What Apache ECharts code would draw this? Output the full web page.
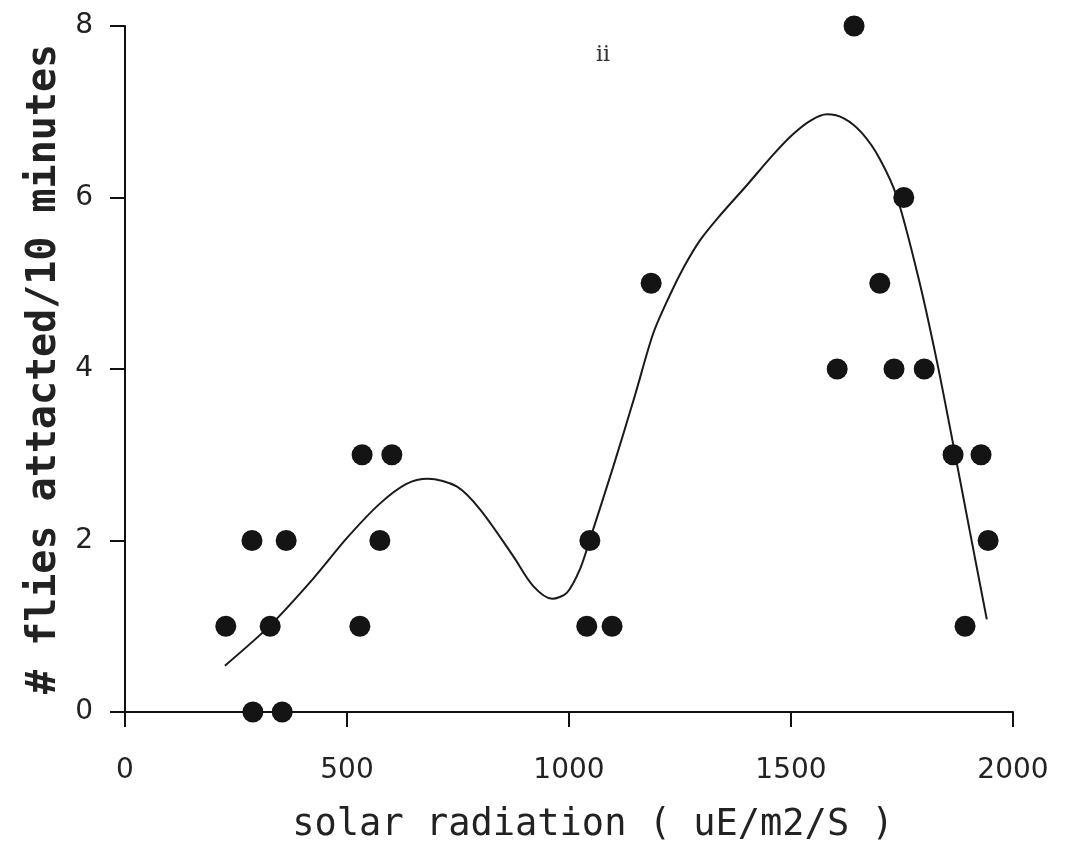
<!DOCTYPE html>
<html><head><meta charset="utf-8">
<script src="https://cdn.jsdelivr.net/npm/echarts@6/dist/echarts.min.js"></script>
<style>html,body{margin:0;padding:0;background:#fff;overflow:hidden}#c{width:1065px;height:849px}</style>
</head><body><div id="c"></div>
<script>
const pointsX = [227,286,288,327,354,363,529,534,601,574,1040,1047,1097,1185,1604,1642,1700,1732,1754,1800,1865,1928,1892,1944];
const pointsY = [1,2,0,1,0,2,1,3,3,2,1,2,1,5,4,8,5,4,6,4,3,3,1,2];
const curveX = [225,327,423,500,574,634,682,747,800,874,919,962,995,1025,1047,1099,1149,1190,1227,1260,1295,1335,1400,1460,1505,1545,1581,1620,1660,1700,1739,1790,1829,1865,1903,1941];
const curveY = [0.54,1.01,1.55,2.03,2.43,2.66,2.72,2.63,2.36,1.82,1.47,1.32,1.39,1.67,2.01,2.85,3.7,4.42,4.86,5.2,5.5,5.76,6.14,6.5,6.74,6.9,6.97,6.92,6.75,6.45,6.0,5.0,4.08,3.13,2.1,1.08];
const xTicks = {min:0, max:2000, interval:500};
const yTicks = {min:0, max:8, interval:2};
const panelLabel = 'ii';
const xName = 'solar radiation ( uE/m2/S )';
const yName = '# flies attacted/10 minutes';

const chart = echarts.init(document.getElementById('c'), null, {width:1065, height:849});
const tickFont = 'DejaVu Sans, sans-serif';
const nameFont = 'DejaVu Sans Mono, monospace';
function axisBase(){
  return {
    axisLine:{show:true, onZero:false, lineStyle:{color:'#111', width:2}},
    axisTick:{show:true, inside:false, length:15, lineStyle:{color:'#111', width:2}},
    splitLine:{show:false}
  };
}
chart.setOption({
  backgroundColor:'#fff',
  animation:false,
  title:{text:panelLabel, left:591, top:39, textStyle:{fontFamily:'DejaVu Serif, serif', fontSize:22, fontWeight:'normal', color:'#333'}},
  grid:{left:125, top:26, width:888, height:691, containLabel:false},
  xAxis:Object.assign(axisBase(), {type:'value', min:xTicks.min, max:xTicks.max, interval:xTicks.interval,
    name:xName, nameLocation:'middle', nameGap:95,
    nameTextStyle:{color:'#222', fontSize:37, fontFamily:nameFont, padding:[0,0,0,48]},
    axisLabel:{color:'#222', fontSize:28, margin:45, fontFamily:tickFont, formatter:v=>String(v)}}),
  yAxis:Object.assign(axisBase(), {type:'value', min:yTicks.min, max:yTicks.max, interval:yTicks.interval,
    name:yName, nameLocation:'middle', nameGap:60,
    nameTextStyle:{color:'#222', fontSize:40, fontFamily:nameFont, fontWeight:'bold'},
    axisLabel:{color:'#222', fontSize:28, margin:32, fontFamily:tickFont, formatter:v=>String(v)}}),
  series:[
    {type:'line', data:curveX.map((x,i)=>[x,curveY[i]]), smooth:0.3, showSymbol:false, symbol:'none',
     lineStyle:{color:'#1a1a1a', width:2}, z:2},
    {type:'scatter', data:pointsX.map((x,i)=>[x,pointsY[i]]), symbol:'circle', symbolSize:21,
     itemStyle:{color:'#141414', opacity:1}, z:3}
  ]
});
</script></body></html>
